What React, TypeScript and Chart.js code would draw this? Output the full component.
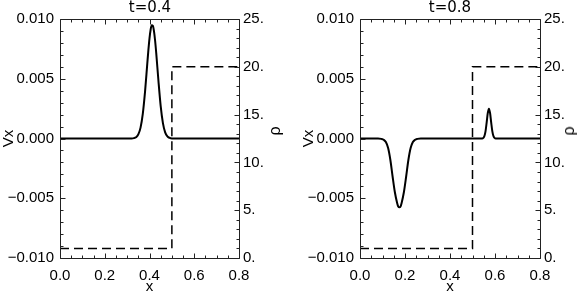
import React, { useEffect, useRef } from "react";
import { Chart, registerables } from "chart.js";

Chart.register(...registerables);

// ---- data ----
const panelTitles = ["t=0.4", "t=0.8"];
const rhoTitle = "\u03c1";

const xTickValues = [0, 0.2, 0.4, 0.6, 0.8];
const xTickLabels = ["0.0", "0.2", "0.4", "0.6", "0.8"];
const vxTickValues = [-0.01, -0.005, 0, 0.005, 0.01];
const vxTickLabels = ["\u22120.010", "\u22120.005", "0.000", "0.005", "0.010"];
const rhoTickValues = [0, 5, 10, 15, 20, 25];
const rhoTickLabels = ["0.", "5.", "10.", "15.", "20.", "25."];

// t = 0.4 : Vx
const xVxA = [0, 0.3, 0.32, 0.33, 0.34, 0.35, 0.36, 0.37, 0.38, 0.39, 0.395, 0.4, 0.405, 0.41, 0.415, 0.42, 0.425, 0.43, 0.44, 0.45, 0.46, 0.47, 0.48, 0.49, 0.5, 0.8];
const vxA = [0, 0, 0.000005, 0.00003, 0.000105, 0.00034, 0.00091, 0.00206, 0.0039, 0.00624, 0.00739, 0.00838, 0.0091, 0.00947, 0.00943, 0.00899, 0.0082, 0.00717, 0.00481, 0.00271, 0.00129, 0.00051, 0.00017, 0.00005, 0.00001, 0];

// t = 0.8 : Vx
const xVxB = [0, 0.08, 0.095, 0.105, 0.115, 0.125, 0.135, 0.145, 0.155, 0.165, 0.17, 0.175, 0.18, 0.185, 0.195, 0.205, 0.215, 0.225, 0.235, 0.245, 0.255, 0.27, 0.53, 0.543, 0.548, 0.553, 0.558, 0.563, 0.568, 0.573, 0.578, 0.583, 0.588, 0.593, 0.598, 0.603, 0.8];
const vxB = [0, 0, -0.00003, -0.0001, -0.0003, -0.0008, -0.0018, -0.0032, -0.0045, -0.0054, -0.0057, -0.00576, -0.0057, -0.0054, -0.0045, -0.0032, -0.0018, -0.0008, -0.0003, -0.0001, -0.00003, 0, 0, 0, 0.00005, 0.00021, 0.00062, 0.00135, 0.00214, 0.0025, 0.00214, 0.00135, 0.00062, 0.00021, 0.00005, 0, 0];

// density (same at both times)
const xRho = [0, 0.5, 0.5, 0.8];
const rhoVals = [1, 1, 20, 20];

const FONT = "'Liberation Sans', Arial, sans-serif";
const TITLE_FONT = "'DejaVu Sans', sans-serif";

const frameTicks = {
  id: "frameTicks",
  afterDatasetsDraw(chart: any) {
    const { ctx, chartArea: a, scales } = chart;
    const sx = scales.x, sy = scales.y, sy2 = scales.y2;
    const L = Math.round(a.left) + 0.5;
    const R = Math.round(a.right) + 0.5;
    const T = Math.round(a.top) + 0.5;
    const B = Math.round(a.bottom) + 0.5;
    ctx.save();
    ctx.strokeStyle = "#222";
    ctx.lineWidth = 1;
    ctx.beginPath();
    ctx.rect(L, T, R - L, B - T);
    for (let i = 0; i <= 16; i++) {
      const px = Math.round(sx.getPixelForValue(i * 0.05)) + 0.5;
      const len = i % 4 === 0 ? 5 : 3;
      ctx.moveTo(px, B);
      ctx.lineTo(px, B - len);
      ctx.moveTo(px, T);
      ctx.lineTo(px, T + len);
    }
    for (let i = -10; i <= 10; i++) {
      const py = Math.round(sy.getPixelForValue(i * 0.001)) + 0.5;
      const len = i % 5 === 0 ? 5 : 3;
      ctx.moveTo(L, py);
      ctx.lineTo(L + len, py);
    }
    for (let i = 0; i <= 25; i++) {
      const py = Math.round(sy2.getPixelForValue(i)) + 0.5;
      const len = i % 5 === 0 ? 5 : 3;
      ctx.moveTo(R, py);
      ctx.lineTo(R - len, py);
    }
    ctx.stroke();
    ctx.restore();
  },
};

function setTicks(values: number[]) {
  return (scale: any) => {
    scale.ticks = values.map((v) => ({ value: v }));
  };
}

interface PanelProps {
  left: number;
  title: string;
  xs: number[];
  vs: number[];
  leftWidth: number;
  rightWidth: number;
  rhoX: number;
}

function Panel({ left, title, xs, vs, leftWidth, rightWidth, rhoX }: PanelProps) {
  const ref = useRef<HTMLCanvasElement>(null);
  useEffect(() => {
    const canvas = ref.current;
    if (!canvas) return;
    const chart = new Chart(canvas, {
      type: "line",
      data: {
        datasets: [
          {
            data: xs.map((x, i) => ({ x, y: vs[i] })),
            yAxisID: "y",
            borderColor: "#000",
            borderWidth: 2,
            pointRadius: 0,
            cubicInterpolationMode: "monotone",
            fill: false,
          },
          {
            data: xRho.map((x, i) => ({ x, y: rhoVals[i] })),
            yAxisID: "y2",
            borderColor: "#000",
            borderWidth: 1.5,
            borderDash: [9, 5],
            pointRadius: 0,
            tension: 0,
            fill: false,
          },
        ],
      },
      options: {
        animation: false,
        responsive: false,
        devicePixelRatio: 1,
        layout: { padding: 0 },
        plugins: {
          legend: { display: false },
          tooltip: { enabled: false },
          title: {
            display: true,
            text: title,
            color: "#000",
            font: { family: TITLE_FONT, size: 15, weight: "normal", lineHeight: 1.1 },
            padding: { top: 0, bottom: 2.5 },
          },
        },
        scales: {
          x: {
            type: "linear",
            position: "bottom",
            min: 0,
            max: 0.8,
            afterBuildTicks: setTicks(xTickValues),
            afterFit: (s: any) => {
              s.height = 36;
            },
            grid: { display: false, drawTicks: false },
            border: { display: false },
            ticks: {
              color: "#000",
              padding: 9,
              maxRotation: 0,
              autoSkip: false,
              font: { family: FONT, size: 15 },
              callback: (_v: any, i: number) => xTickLabels[i],
            },
            title: {
              display: true,
              text: "x",
              color: "#000",
              font: { family: FONT, size: 15 },
              padding: { top: 0, bottom: -2 },
            },
          },
          y: {
            type: "linear",
            position: "left",
            min: -0.01,
            max: 0.01,
            afterBuildTicks: setTicks(vxTickValues),
            afterFit: (s: any) => {
              s.width = leftWidth;
            },
            grid: { display: false, drawTicks: false },
            border: { display: false },
            ticks: {
              color: "#000",
              padding: 6,
              autoSkip: false,
              font: { family: FONT, size: 15 },
              callback: (_v: any, i: number) => vxTickLabels[i],
            },
            title: {
              display: true,
              text: "Vx",
              color: "#000",
              font: { family: FONT, size: 15 },
              padding: { top: 0, bottom: 0 },
            },
          },
          y2: {
            type: "linear",
            position: "right",
            min: 0,
            max: 25,
            afterBuildTicks: setTicks(rhoTickValues),
            afterFit: (s: any) => {
              s.width = rightWidth;
            },
            grid: { display: false, drawTicks: false },
            border: { display: false },
            ticks: {
              color: "#000",
              padding: 4,
              autoSkip: false,
              font: { family: FONT, size: 15 },
              callback: (_v: any, i: number) => rhoTickLabels[i],
            },
            title: { display: false },
          },
        },
      },
      plugins: [frameTicks],
    } as any);
    return () => chart.destroy();
  }, []);
  return (
    <>
      <canvas
        ref={ref}
        width={300}
        height={294}
        style={{ position: "absolute", left, top: 0, width: 300, height: 294 }}
      />
      <div
        style={{
          position: "absolute",
          left: rhoX - 3,
          top: 131,
          transform: "translate(-50%, -50%) rotate(-90deg)",
          font: "16px 'Liberation Sans', Arial, sans-serif",
          lineHeight: "16px",
          color: "#000",
          whiteSpace: "nowrap",
        }}
      >
        {rhoTitle}
      </div>
    </>
  );
}

export default function App() {
  useEffect(() => {
    document.body.style.margin = "0";
    document.body.style.overflow = "hidden";
    document.body.style.background = "#fff";
  }, []);
  return (
    <div style={{ position: "absolute", left: 0, top: 0, width: 584, height: 294, overflow: "hidden", background: "#fff" }}>
      <Panel left={0} title={panelTitles[0]} xs={xVxA} vs={vxA} leftWidth={60} rightWidth={61} rhoX={278} />
      <Panel left={300} title={panelTitles[1]} xs={xVxB} vs={vxB} leftWidth={60} rightWidth={60} rhoX={572} />
    </div>
  );
}
